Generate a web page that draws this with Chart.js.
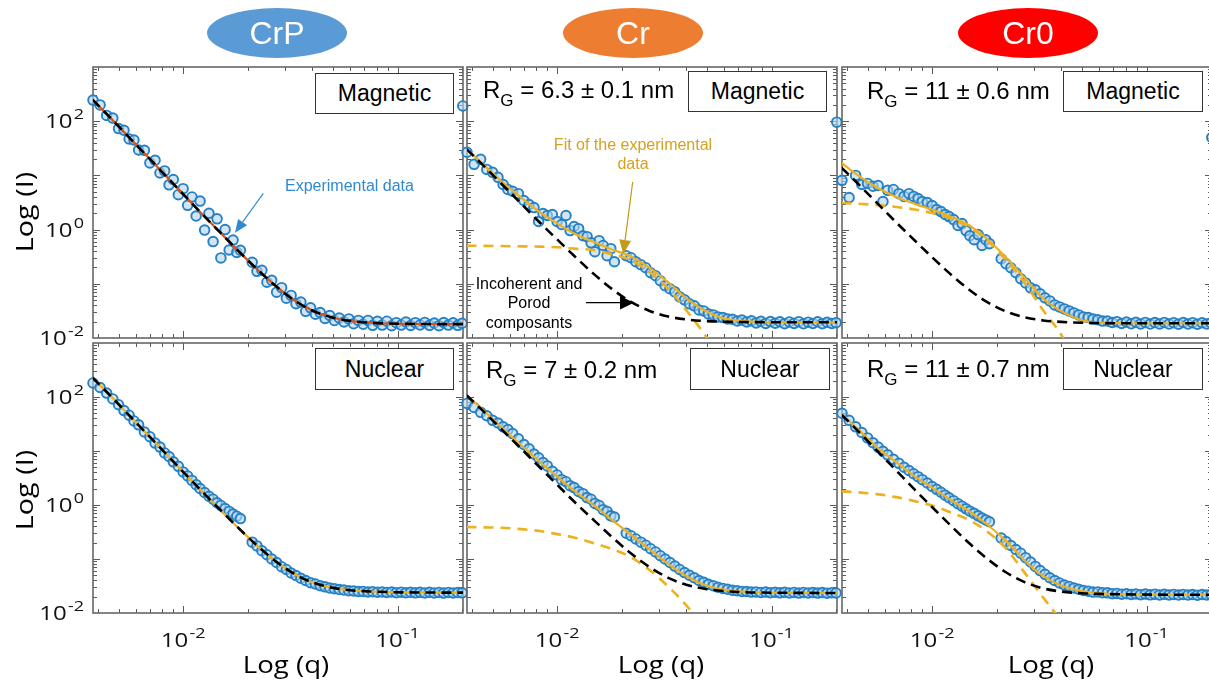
<!DOCTYPE html>
<html><head><meta charset="utf-8">
<script src="https://cdn.jsdelivr.net/npm/chart.js@4.4.1/dist/chart.umd.min.js"></script>
<style>
html,body{margin:0;padding:0;background:#fff;}
body{width:1209px;height:684px;overflow:hidden;position:relative;font-family:"Liberation Sans",Arial,sans-serif;}
.panel{position:absolute;}
.pill{position:absolute;width:140px;height:50px;border-radius:50%;color:#fff;font-size:32px;display:flex;align-items:center;justify-content:center;z-index:5;}
.box{position:absolute;box-sizing:border-box;border:1px solid #333;background:#fff;font-size:23px;display:flex;align-items:center;justify-content:center;color:#000;z-index:5;}
.rg{position:absolute;font-size:24px;line-height:1;white-space:nowrap;color:#000;z-index:5;}
.rg span{font-size:17px;position:relative;top:8px;}
.axt{position:absolute;font-family:"Open Sans",sans-serif;font-size:23px;line-height:1;white-space:nowrap;color:#000;z-index:5;}
.ann{position:absolute;font-size:16px;line-height:19px;white-space:nowrap;z-index:5;text-align:center;}
</style></head><body>
<div class="pill" style="left:207px;top:8px;background:#5B9BD5;">CrP</div>
<div class="pill" style="left:563px;top:8px;background:#ED7D31;">Cr</div>
<div class="pill" style="left:958px;top:8px;background:#FF0000;">Cr0</div>
<script>
// ---------------- data ----------------
const qData = [0.0038,0.0041,0.0044,0.0047,0.0050,0.0053,0.0056,0.0059,0.0062,0.0066,0.0070,0.0074,0.0078,0.0082,0.0086,0.0090,0.0095,0.0100,0.0105,0.0110,0.0115,0.0120,0.0126,0.0132,0.0138,0.0144,0.0150,0.0157,0.0164,0.0171,0.0178,0.0185,
0.0210,0.0221,0.0233,0.0246,0.0259,0.0273,0.0288,0.0303,0.0319,0.0336,0.0354,0.0373,0.0393,0.0414,0.0436,0.0459,0.0483,0.0508,0.0535,0.0563,0.0593,0.0624,0.0657,0.0692,0.0728,0.0766,0.0806,0.0848,0.0892,0.0939,0.0988,0.1040,0.1094,0.1151,0.1211,0.1274,0.1340,0.1410,0.1483,0.1560,0.1641,0.1726,0.1816,0.1910,0.2000];

const intCrPMag = [245,200,128,114,73,68,47,45,29.4,29,17,19,11.1,12.1,6.7,8.4,4.4,5.7,2.8,4.0,1.78,3.36,0.98,2.0,0.60,1.58,0.30,1.0,0.42,0.64,0.38,0.415,
0.25,0.17,0.177,0.107,0.116,0.070,0.085,0.054,0.061,0.043,0.046,0.031,0.036,0.0275,0.0295,0.023,0.026,0.021,0.0234,0.0198,0.0225,0.0183,0.0211,0.0179,0.0211,0.0171,0.0203,0.0173,0.0204,0.0169,0.0192,0.0173,0.0197,0.0170,0.0192,0.0174,0.0194,0.0171,0.0189,0.0169,0.0193,0.0173,0.0191,0.0171,0.0187];
const intCrMag = [26.7,16.0,19.8,12.9,11.4,9.2,6.8,5.5,5.1,4.6,3.44,2.9,2.55,1.41,1.98,1.82,1.90,1.41,1.24,1.82,0.96,1.14,1.04,0.77,0.74,0.57,0.39,0.625,0.51,0.33,0.445,0.255,
0.33,0.303,0.255,0.225,0.198,0.160,0.141,0.114,0.092,0.081,0.071,0.0574,0.0506,0.0427,0.0392,0.033,0.0316,0.0278,0.0267,0.0245,0.0238,0.0225,0.0222,0.0206,0.0214,0.0198,0.0207,0.0190,0.0203,0.0186,0.0201,0.0187,0.0199,0.0184,0.0198,0.0186,0.0200,0.0183,0.0196,0.0185,0.0199,0.0184,0.0195,0.0186,0.0192];
const intCr0Mag = [8.1,3.9,10.0,6.8,7.1,6.3,6.5,3.3,5.3,5.5,4.6,4.1,4.6,4.1,3.75,3.3,3.16,2.78,2.35,2.15,1.90,1.74,1.53,1.19,1.29,0.96,0.77,0.65,0.81,0.51,0.65,0.55,
0.29,0.234,0.198,0.160,0.124,0.104,0.0843,0.0774,0.0653,0.0551,0.0484,0.0408,0.0375,0.0344,0.0316,0.029,0.0267,0.0245,0.0238,0.0223,0.0217,0.0205,0.0206,0.0193,0.0200,0.0185,0.0197,0.0183,0.0195,0.0182,0.0194,0.0181,0.0193,0.0182,0.0194,0.0181,0.0192,0.0180,0.0193,0.0181,0.0192,0.0180,0.0191,0.0182,0.0190];
const intCrPNuc = [182,150,118,92,72,56,46,36,30.5,22.5,18.4,14.0,11.8,9.2,7.9,6.3,5.2,4.1,3.45,2.85,2.38,2.02,1.70,1.45,1.28,1.10,0.98,0.86,0.76,0.68,0.62,0.56,
0.205,0.175,0.142,0.120,0.100,0.086,0.072,0.064,0.055,0.0495,0.044,0.040,0.0365,0.0345,0.032,0.0305,0.029,0.0282,0.0272,0.0266,0.0258,0.0256,0.0250,0.0251,0.0245,0.0248,0.0242,0.0246,0.0240,0.0245,0.0238,0.0243,0.0237,0.0242,0.0236,0.0241,0.0235,0.0241,0.0235,0.0240,0.0234,0.0240,0.0235,0.0239,0.0236];
const intCrNuc = [76,64,52,45,37,33,28,25,21,16.8,13.2,11.0,8.8,7.5,6.1,5.3,4.2,3.6,2.95,2.7,2.28,2.1,1.78,1.62,1.37,1.28,1.07,0.98,0.82,0.76,0.63,0.6,
0.30,0.27,0.235,0.205,0.180,0.155,0.135,0.115,0.100,0.086,0.074,0.064,0.056,0.050,0.045,0.040,0.037,0.034,0.032,0.0300,0.0285,0.0275,0.0264,0.0259,0.0251,0.0250,0.0244,0.0246,0.0240,0.0244,0.0238,0.0242,0.0236,0.0241,0.0235,0.0240,0.0234,0.0240,0.0235,0.0239,0.0234,0.0239,0.0233,0.0238,0.0235];
const intCr0Nuc = [50,37,28,22,17.5,14.2,11.8,9.9,8.5,7.0,5.9,5.0,4.35,3.8,3.35,2.95,2.55,2.2,1.95,1.72,1.52,1.36,1.2,1.06,0.95,0.85,0.77,0.70,0.63,0.575,0.53,0.49,
0.245,0.21,0.178,0.150,0.128,0.106,0.088,0.073,0.061,0.052,0.045,0.040,0.036,0.033,0.031,0.029,0.0275,0.0262,0.0254,0.0244,0.0246,0.0238,0.0236,0.0228,0.0230,0.0223,0.0227,0.0220,0.0225,0.0218,0.0224,0.0217,0.0223,0.0216,0.0222,0.0216,0.0221,0.0215,0.0221,0.0215,0.0220,0.0214,0.0220,0.0215,0.0219];

const outlierQ = [0.2015];
const outlierMag = [191, 96, 50];

const lineQ = [0.00378,0.0045,0.0055,0.0068,0.0083,0.01,0.012,0.015,0.018,0.022,0.027,0.033,0.04,0.05,0.06,0.075,0.09,0.11,0.14,0.17,0.203];
const fitCrPMag   = [250,124,54.2,22.5,9.8,4.52,2.12,0.859,0.413,0.190,0.0916,0.0497,0.0322,0.0237,0.0207,0.0191,0.0185,0.0182,0.0181,0.0180,0.0180];
const incohCrPMag = [250,124,54.2,22.5,9.8,4.52,2.12,0.859,0.413,0.190,0.0916,0.0497,0.0322,0.0237,0.0207,0.0191,0.0185,0.0182,0.0181,0.0180,0.0180];
const fitCrMag    = [31.1,16.1,7.8,3.9,2.1,1.3,0.85,0.58,0.431,0.321,0.196,0.1056,0.0547,0.0305,0.0230,0.0204,0.0196,0.0195,0.0195,0.0195,0.0195];
const incohCrMag  = [30.6,15.6,7.01,3.01,1.35,0.660,0.329,0.146,0.0806,0.0469,0.0316,0.0249,0.0220,0.0205,0.0200,0.0197,0.0196,0.0195,0.0195,0.0195,0.0195];
const guinCrMag   = [0.506,0.501,0.497,0.491,0.486,0.472,0.446,0.415,0.350,0.274,0.164,0.0807,0.0327,0.010,0.003,0.0007,null,null,null,null,null];
const fitCr0Mag   = [17.0,10.1,6.03,3.98,2.98,2.33,1.79,1.18,0.686,0.311,0.129,0.053,0.0313,0.0211,0.0192,0.0188,0.0187,0.0187,0.0187,0.0187,0.0187];
const incohCr0Mag = [13.9,7.08,3.18,1.36,0.63,0.309,0.159,0.076,0.0464,0.0311,0.0242,0.0211,0.0198,0.0191,0.0189,0.0187,0.0187,0.0187,0.0187,0.0187,0.0187];
const guinCr0Mag  = [3.1,3.0,2.85,2.62,2.35,2.02,1.63,1.1,0.64,0.28,0.105,0.032,0.0115,0.002,0.0003,null,null,null,null,null,null];
const fitCrPNuc   = [228,113.5,49.4,20.5,8.95,4.12,1.94,0.791,0.385,0.181,0.091,0.053,0.037,0.0292,0.0264,0.0250,0.0244,0.0241,0.0240,0.0238,0.0238];
const incohCrPNuc = [228,113.5,49.4,20.5,8.95,4.12,1.94,0.791,0.385,0.181,0.091,0.053,0.037,0.0292,0.0264,0.0250,0.0244,0.0241,0.0240,0.0238,0.0238];
const fitCrNuc    = [110,58,27.5,12.8,6.3,3.35,1.85,0.95,0.53,0.285,0.150,0.080,0.048,0.032,0.0271,0.0248,0.0240,0.0237,0.0236,0.0235,0.0235];
const incohCrNuc  = [108,55.8,25.3,11.0,4.97,2.38,1.16,0.503,0.257,0.129,0.0707,0.0447,0.0335,0.0276,0.0255,0.0243,0.0239,0.0237,0.0236,0.0235,0.0235];
const guinCrNuc   = [0.392,0.385,0.379,0.357,0.330,0.289,0.250,0.194,0.154,0.1086,0.0625,0.0308,0.0139,0.0044,0.0016,null,null,null,null,null,null];
const fitCr0Nuc   = [48.9,25.4,12.0,6.2,3.4,2.1,1.3,0.75,0.44,0.22,0.094,0.048,0.0322,0.0254,0.0233,0.0222,0.0220,0.0219,0.0218,0.0218,0.0218];
const incohCr0Nuc = [47.1,23.7,10.4,4.37,1.92,0.915,0.446,0.191,0.1025,0.0574,0.0373,0.0285,0.0250,0.0232,0.0226,0.0222,0.0220,0.0219,0.0218,0.0218,0.0218];
const guinCr0Nuc  = [1.79,1.72,1.59,1.40,1.18,0.98,0.75,0.519,0.327,0.16,0.056,0.0192,0.0072,0.0022,0.0007,null,null,null,null,null,null];

const xTickValues = [0.01, 0.1];
const xTickBase = ['10', '10'];
const xTickExp = ['-2', '-1'];
const yTickValues = [0.01, 1, 100];
const yTickBase = ['10', '10', '10'];
const yTickExp = ['-2', '0', '2'];
const X_MIN = 0.0038, X_MAX = 0.202, Y_MIN = 0.01, Y_MAX = 1000;

// ---------------- layout ----------------
const colLeft = [93, 467, 842];
const rowTop = [67, 343];
const rowH = [271, 270];
const plotW = 370;

function pts(xs, ys) {
  const out = [];
  xs.forEach((x, i) => { if (ys[i] != null) out.push({x: x, y: ys[i]}); });
  return out;
}

const lineStyles = {
  red:    {borderColor:'#D95319', borderWidth:2.2, borderDash:[], order:2},
  orange: {borderColor:'#EDB120', borderWidth:2.2, borderDash:[], order:2},
  oDash:  {borderColor:'#EDB120', borderWidth:2.6, borderDash:[10,7], order:3},
  black:  {borderColor:'#000000', borderWidth:2.6, borderDash:[10,6], order:1}
};

// draws "10" with a raised exponent, horizontally stretched like the source figure
function drawPow(ctx, base, exp, x, yc, align) {
  const SX = 1.2;
  ctx.save();
  ctx.font = '20px "Open Sans"';
  const wb = ctx.measureText(base).width;
  ctx.font = '15px "Open Sans"';
  const we = ctx.measureText(exp).width;
  const total = (wb + 1 + we) * SX;
  const left = align === 'right' ? x - total : x - total / 2;
  ctx.translate(left, 0);
  ctx.scale(SX, 1);
  ctx.fillStyle = '#111';
  ctx.textBaseline = 'alphabetic';
  ctx.textAlign = 'left';
  ctx.font = '20px "Open Sans"';
  ctx.fillText(base, 0, yc + 7.2);
  ctx.font = '15px "Open Sans"';
  ctx.fillText(exp, wb + 1, yc - 2);
  ctx.restore();
}

const framePlugin = {
  id: 'frame',
  beforeDatasetsDraw(chart) {
    const {ctx, chartArea: a, scales} = chart;
    const x = scales.x, y = scales.y;
    ctx.save();
    ctx.strokeStyle = '#5a5a5a';
    ctx.lineWidth = 1;
    ctx.beginPath();
    for (let e = -3; e <= 0; e++) for (let m = 1; m <= 9; m++) {
      const v = m * Math.pow(10, e);
      if (v <= X_MIN * 1.001 || v >= X_MAX * 0.999) continue;
      const px = Math.round(x.getPixelForValue(v)) + 0.5;
      const L = m === 1 ? 7 : 4;
      ctx.moveTo(px, a.bottom); ctx.lineTo(px, a.bottom - L);
      ctx.moveTo(px, a.top); ctx.lineTo(px, a.top + L);
    }
    for (let e = -2; e <= 3; e++) for (let m = 1; m <= 9; m++) {
      const v = m * Math.pow(10, e);
      if (v <= Y_MIN * 1.001 || v >= Y_MAX * 0.999) continue;
      const py = Math.round(y.getPixelForValue(v)) + 0.5;
      const L = m === 1 ? 7 : 4;
      ctx.moveTo(a.left, py); ctx.lineTo(a.left + L, py);
      ctx.moveTo(a.right, py); ctx.lineTo(a.right - L, py);
    }
    ctx.stroke();
    ctx.lineWidth = 1.6;
    ctx.strokeStyle = '#666666';
    ctx.strokeRect(a.left, a.top, a.right - a.left, a.bottom - a.top);
    ctx.restore();
  },
  afterDraw(chart, args, opts) {
    const {ctx, chartArea: a, scales} = chart;
    if (opts.showY) {
      yTickValues.forEach((v, i) => drawPow(ctx, yTickBase[i], yTickExp[i], a.left - 9, scales.y.getPixelForValue(v), 'right'));
    }
    if (opts.showX) {
      xTickValues.forEach((v, i) => drawPow(ctx, xTickBase[i], xTickExp[i], scales.x.getPixelForValue(v), a.bottom + 27, 'center'));
    }
  }
};

const panels = [
  {c:0, r:0, data:intCrPMag, out:outlierMag[0], lines:[['red',fitCrPMag],['black',incohCrPMag]]},
  {c:1, r:0, data:intCrMag,  out:outlierMag[1], lines:[['oDash',guinCrMag],['orange',fitCrMag],['black',incohCrMag]]},
  {c:2, r:0, data:intCr0Mag, out:outlierMag[2], lines:[['oDash',guinCr0Mag],['orange',fitCr0Mag],['black',incohCr0Mag]]},
  {c:0, r:1, data:intCrPNuc, out:null, lines:[['orange',fitCrPNuc],['black',incohCrPNuc]]},
  {c:1, r:1, data:intCrNuc,  out:null, lines:[['oDash',guinCrNuc],['orange',fitCrNuc],['black',incohCrNuc]]},
  {c:2, r:1, data:intCr0Nuc, out:null, lines:[['oDash',guinCr0Nuc],['orange',fitCr0Nuc],['black',incohCr0Nuc]]}
];

const pointStyle = {
  showLine:false, pointRadius:4.8, pointBorderWidth:1.9,
  pointBorderColor:'#2580c4', pointBackgroundColor:'rgba(180,212,238,0.6)',
  borderColor:'#2580c4', backgroundColor:'rgba(180,212,238,0.6)',
  order:10, clip:{left:6, right:6, top:0, bottom:0}
};

function buildChart(p) {
  const axW = p.c === 0 ? 93 : 10;
  const padT = 10, padR = 8;
  const axH = p.r === 1 ? 71 : 10;
  const plotH = rowH[p.r];
  const div = document.createElement('div');
  div.className = 'panel';
  div.style.left = (colLeft[p.c] - axW) + 'px';
  div.style.top = (rowTop[p.r] - padT) + 'px';
  div.style.width = (axW + plotW + padR) + 'px';
  div.style.height = (padT + plotH + axH) + 'px';
  const cv = document.createElement('canvas');
  div.appendChild(cv);
  document.body.appendChild(div);

  const datasets = [Object.assign({data: pts(qData, p.data)}, pointStyle)];
  if (p.out != null) datasets.push(Object.assign({data: pts(outlierQ, [p.out])}, pointStyle));
  p.lines.forEach(([k, arr]) => {
    const s = lineStyles[k];
    datasets.push({
      data: pts(lineQ, arr), showLine:true, pointRadius:0, fill:false,
      borderColor:s.borderColor, borderWidth:s.borderWidth, borderDash:s.borderDash,
      order:s.order, cubicInterpolationMode:'monotone', clip:0
    });
  });

  new Chart(cv, {
    type: 'scatter',
    data: {datasets},
    options: {
      responsive:true, maintainAspectRatio:false, animation:false, devicePixelRatio:1,
      events:[],
      layout:{padding:{top:padT, right:padR, left:0, bottom:0}},
      plugins:{legend:{display:false}, tooltip:{enabled:false}, frame:{showX:p.r === 1, showY:p.c === 0}},
      scales:{
        x:{
          type:'logarithmic', min:X_MIN, max:X_MAX, bounds:'data',
          grid:{display:false, drawTicks:false}, border:{display:false},
          ticks:{display:false},
          afterBuildTicks:(s) => { s.ticks = xTickValues.map(v => ({value:v})); },
          afterFit:(s) => { s.height = axH; s.paddingLeft = 0; s.paddingRight = 0; }
        },
        y:{
          type:'logarithmic', min:Y_MIN, max:Y_MAX, bounds:'data',
          grid:{display:false, drawTicks:false}, border:{display:false},
          ticks:{display:false},
          afterBuildTicks:(s) => { s.ticks = yTickValues.map(v => ({value:v})); },
          afterFit:(s) => { s.width = axW; s.paddingTop = 0; s.paddingBottom = 0; }
        }
      }
    },
    plugins:[framePlugin]
  });
}
panels.forEach(buildChart);
</script>

<!-- panel labels -->
<div class="box" style="left:315px;top:73px;width:139px;height:41px;">Magnetic</div>
<div class="box" style="left:688px;top:71px;width:139px;height:41px;">Magnetic</div>
<div class="box" style="left:1063px;top:71px;width:140px;height:41px;">Magnetic</div>
<div class="box" style="left:315px;top:348px;width:139px;height:42px;">Nuclear</div>
<div class="box" style="left:690px;top:348px;width:140px;height:42px;">Nuclear</div>
<div class="box" style="left:1063px;top:348px;width:140px;height:42px;">Nuclear</div>

<div class="rg" style="left:483px;top:78px;">R<span>G</span> = 6.3 ± 0.1 nm</div>
<div class="rg" style="left:867px;top:79px;">R<span>G</span> = 11 ± 0.6 nm</div>
<div class="rg" style="left:486px;top:358px;">R<span>G</span> = 7 ± 0.2 nm</div>
<div class="rg" style="left:867px;top:357px;">R<span>G</span> = 11 ± 0.7 nm</div>

<!-- axis titles -->
<div class="axt" style="left:24px;top:212px;transform:translate(-50%,-50%) rotate(-90deg) scaleX(1.25);">Log (I)</div>
<div class="axt" style="left:24px;top:490px;transform:translate(-50%,-50%) rotate(-90deg) scaleX(1.25);">Log (I)</div>
<div class="axt" style="left:286px;top:664px;transform:translate(-50%,-50%) scaleX(1.2);">Log (q)</div>
<div class="axt" style="left:661px;top:664px;transform:translate(-50%,-50%) scaleX(1.2);">Log (q)</div>
<div class="axt" style="left:1051px;top:664px;transform:translate(-50%,-50%) scaleX(1.2);">Log (q)</div>

<!-- annotations -->
<div class="ann" style="left:285px;top:176px;color:#2F8AD0;">Experimental data</div>
<div class="ann" style="left:633px;top:135px;transform:translateX(-50%);color:#D5A21C;">Fit of the experimental<br>data</div>
<div class="ann" style="left:529px;top:274px;transform:translateX(-50%);color:#000;">Incoherent and<br>Porod<br><span style="position:relative;top:1px">composants</span></div>

<svg width="1209" height="684" style="position:absolute;left:0;top:0;pointer-events:none;z-index:6;">
  <line x1="263.3" y1="193.3" x2="242.6" y2="222.1" stroke="#2F8AD0" stroke-width="1.2"/>
  <polygon points="235,232.7 247.1,225.3 238.1,218.9" fill="#2F8AD0"/>
  <line x1="632.7" y1="182" x2="625.1" y2="240.1" stroke="#C49A1A" stroke-width="1.2"/>
  <polygon points="623.3,254 631.1,240.9 619.2,239.3" fill="#C49A1A"/>
  <line x1="586" y1="302.7" x2="621" y2="302.7" stroke="#000" stroke-width="1.2"/>
  <polygon points="634,302.7 620,296 620,309.4" fill="#000"/>
</svg>
</body></html>
